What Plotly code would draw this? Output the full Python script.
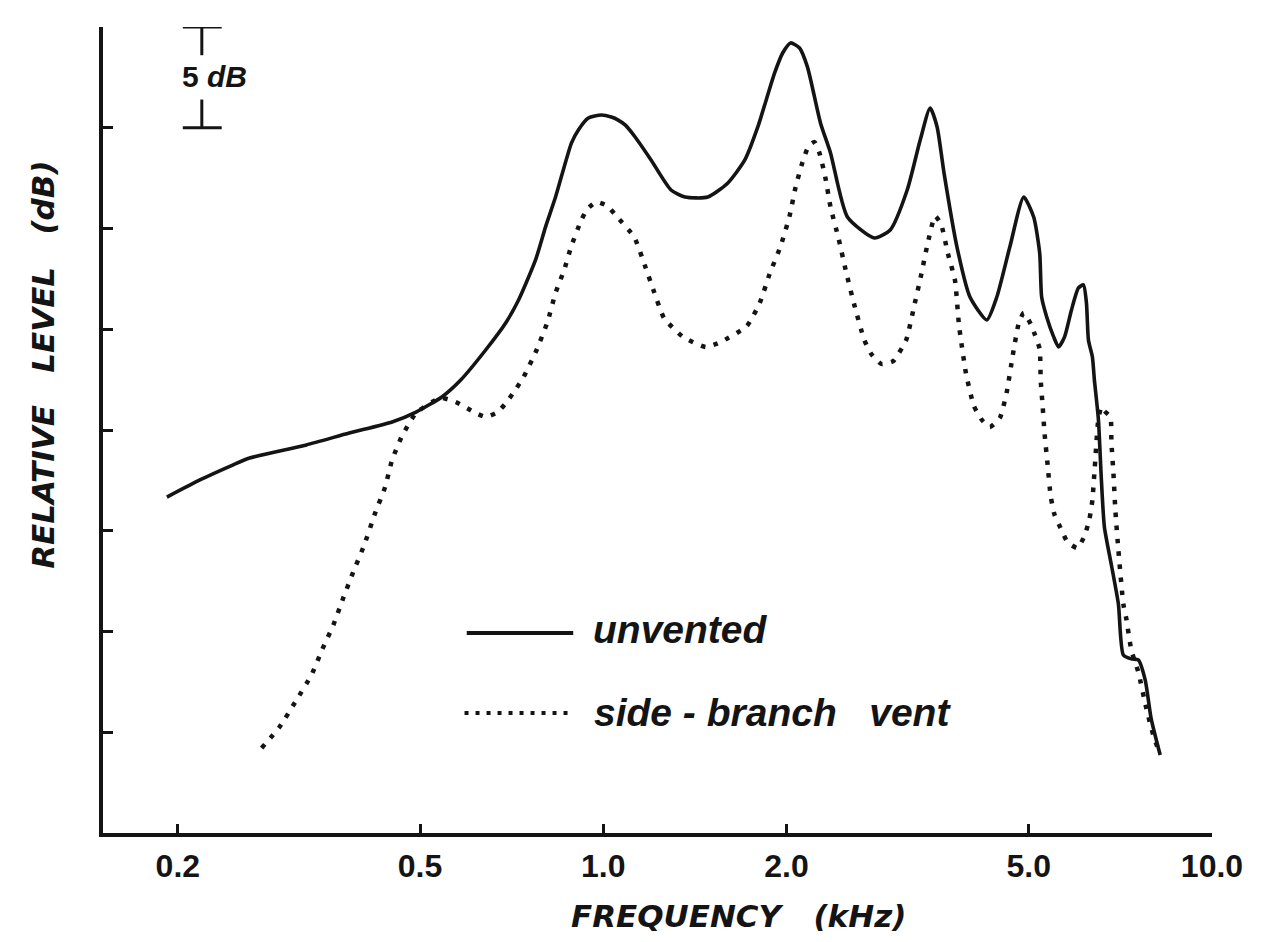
import plotly.graph_objects as go

# ---------------- data ----------------
# frequency in kHz, level in dB (relative; 5 dB per y tick)
unvented_freq = [0.1919, 0.2174, 0.2461, 0.2624, 0.3252, 0.3825, 0.4498, 0.4924, 0.5430, 0.5831,
                 0.6408, 0.6912, 0.7258, 0.7739, 0.8036, 0.8347, 0.8864, 0.9101,
                 0.9450, 0.9925, 1.031, 1.058, 1.086, 1.128, 1.198,
                 1.292, 1.362, 1.485, 1.602, 1.708, 1.794, 1.912, 1.971, 2.031, 2.101, 2.165, 2.274,
                 2.362, 2.518, 2.788, 2.961, 3.157, 3.316, 3.443, 3.535, 3.629, 3.811,
                 4.003, 4.267, 4.431, 4.654, 4.906, 5.094, 5.211, 5.250, 5.351, 5.494,
                 5.597, 5.725, 5.877, 6.034, 6.149, 6.219, 6.266, 6.361, 6.409, 6.506,
                 6.581, 6.656, 6.835, 7.018, 7.151, 7.369, 7.566, 7.768, 7.946, 8.220]
unvented_db = [16.67, 17.52, 18.26, 18.61, 19.26, 19.85, 20.40, 20.89, 21.64, 22.48,
               23.97, 25.31, 26.45, 28.44, 30.07, 31.56, 34.24, 34.89,
               35.48, 35.63, 35.53, 35.38, 35.14, 34.54, 33.40,
               31.91, 31.56, 31.56, 32.26, 33.40, 35.04, 37.72, 38.71, 39.21, 38.96, 38.01, 35.24,
               33.75, 30.57, 29.53, 29.93, 31.91, 34.39, 35.98, 35.04, 32.75, 29.08,
               26.60, 25.46, 26.60, 29.08, 31.56, 30.57, 28.78, 26.60, 25.61, 24.62,
               24.12, 24.62, 25.96, 27.05, 27.20, 26.30, 24.47, 23.62, 22.48, 20.55,
               17.52, 15.19, 13.30, 11.36, 8.83, 8.64, 8.59, 7.59, 5.66, 3.87]

vent_freq = [0.2746, 0.2938, 0.3133, 0.3315, 0.3456, 0.3602, 0.3739, 0.3883, 0.4048, 0.4219,
             0.4381, 0.4498, 0.4670, 0.4924, 0.5231, 0.5430, 0.5722, 0.6173, 0.6408, 0.6708,
             0.6939, 0.7150, 0.7396, 0.7770, 0.8096, 0.8347, 0.8634, 0.8862, 0.9204, 0.9415,
             0.9739, 1.015, 1.054, 1.124, 1.171, 1.212, 1.258, 1.352, 1.474, 1.560,
             1.721, 1.807, 1.876, 1.956, 2.023, 2.070, 2.125, 2.174, 2.223, 2.265,
             2.317, 2.362, 2.434, 2.508, 2.585, 2.684, 2.756, 2.862, 2.994, 3.145,
             3.241, 3.328, 3.404, 3.508, 3.588, 3.684, 3.782, 3.840, 3.942, 4.063,
             4.187, 4.315, 4.482, 4.601, 4.707, 4.815, 4.906, 5.037, 5.113, 5.211,
             5.231, 5.271, 5.309, 5.370, 5.432, 5.514, 5.639, 5.789, 6.012, 6.172,
             6.290, 6.361, 6.409, 6.506, 6.581, 6.656, 6.809, 6.835, 6.887, 6.939,
             7.018, 7.151, 7.233, 7.369, 7.566, 7.798, 8.006, 8.189]
vent_db = [4.22, 5.26, 6.60, 7.84, 9.13, 10.32, 11.66, 12.95, 14.29, 15.88,
           17.17, 18.51, 19.70, 20.84, 21.39, 21.59, 21.39, 20.84, 20.65, 20.89,
           21.39, 21.94, 22.63, 23.97, 25.36, 26.80, 27.99, 29.13, 30.42, 30.97,
           31.32, 31.12, 30.57, 29.58, 28.14, 26.85, 25.56, 24.62, 24.12, 24.37,
           25.16, 26.30, 27.74, 29.13, 30.62, 32.06, 33.30, 34.09, 34.29, 33.75,
           32.51, 31.07, 29.53, 27.79, 26.20, 24.47, 23.77, 23.28, 23.42, 24.47,
           26.15, 27.69, 29.13, 30.62, 30.22, 28.73, 27.44, 25.21, 22.83, 21.19,
           20.50, 20.15, 20.60, 21.89, 23.72, 25.31, 25.81, 25.26, 24.76, 24.02,
           22.48, 21.14, 19.80, 18.26, 16.72, 15.78, 15.14, 14.44, 14.14, 14.74,
           15.58, 16.53, 17.87, 20.55, 21.14, 20.94, 20.65, 19.40, 17.87, 15.98,
           14.04, 11.36, 10.62, 9.08, 7.99, 6.20, 4.86, 4.02]

x_tick_vals = [0.2, 0.5, 1.0, 2.0, 5.0, 10.0]
x_tick_text = ["0.2", "0.5", "1.0", "2.0", "5.0", "10.0"]
y_tick_vals = [5, 10, 15, 20, 25, 30, 35, 40]

series_names = ["unvented", "side\u00a0-\u00a0branch\u00a0\u00a0\u00a0vent"]
x_title = "FREQUENCY\u00a0\u00a0\u00a0(kHz)"
y_title = "RELATIVE\u00a0\u00a0\u00a0LEVEL\u00a0\u00a0\u00a0(dB)"

# 5 dB scale bar (frequency position in kHz, level span in dB)
scale_bar_f = 0.219
scale_bar_cap = (0.2038, 0.2361)
scale_bar_top = 40.0
scale_bar_db = 5.0

INK = "#141414"
FONT = "Liberation Sans"
WIDE = "DejaVu Sans"

fig = go.Figure()

fig.add_trace(go.Scatter(
    x=unvented_freq, y=unvented_db, mode="lines", name=series_names[0],
    line=dict(color=INK, width=3.6, shape="spline", smoothing=0.6),
    showlegend=False, hoverinfo="skip"))

fig.add_trace(go.Scatter(
    x=vent_freq, y=vent_db, mode="lines", name=series_names[1],
    line=dict(color=INK, width=4.5, dash="4.5px,8.5px", shape="spline", smoothing=0.5),
    showlegend=False, hoverinfo="skip"))

# scale bar
sb_bot = scale_bar_top - scale_bar_db
gap_hi = scale_bar_top - 1.4
gap_lo = sb_bot + 1.4
fig.add_trace(go.Scatter(
    x=[scale_bar_cap[0], scale_bar_cap[1], None, scale_bar_f, scale_bar_f, None,
       scale_bar_f, scale_bar_f, None, scale_bar_cap[0], scale_bar_cap[1]],
    y=[scale_bar_top, scale_bar_top, None, scale_bar_top, gap_hi, None,
       gap_lo, sb_bot, None, sb_bot, sb_bot],
    mode="lines", line=dict(color=INK, width=3), showlegend=False,
    hoverinfo="skip", cliponaxis=False))

W, H = 1247, 926
fig.update_layout(
    width=W, height=H,
    margin=dict(l=95, r=39, t=19, b=101),
    paper_bgcolor="white", plot_bgcolor="white",
    showlegend=False,
    font=dict(family=FONT, color=INK),
)

fig.update_xaxes(
    type="log", range=[-0.8219, 1.0],
    tickvals=x_tick_vals, ticktext=x_tick_text,
    ticks="inside", ticklen=9, tickwidth=3, tickcolor=INK,
    showline=True, linewidth=3.5, linecolor=INK,
    showgrid=False, zeroline=False,
    tickfont=dict(family=FONT, size=32, color=INK, weight="bold"),
    ticklabelstandoff=2,
)
fig.update_yaxes(
    range=[0, 40], tickvals=y_tick_vals, showticklabels=False,
    ticks="inside", ticklen=10, tickwidth=3, tickcolor=INK,
    showline=True, linewidth=3.5, linecolor=INK,
    showgrid=False, zeroline=False,
)

# legend samples (paper coordinates)
fig.add_shape(type="line", xref="paper", yref="paper", x0=0.328, x1=0.424, y0=0.248, y1=0.248,
              line=dict(color=INK, width=4))
fig.add_shape(type="line", xref="paper", yref="paper", x0=0.326, x1=0.419, y0=0.149, y1=0.149,
              line=dict(color=INK, width=4, dash="4px,7px"))

annots = [
    dict(text="<b><i>" + series_names[0] + "</i></b>", x=0.440, y=0.252, size=39, xanchor="left", fam=FONT),
    dict(text="<b><i>" + series_names[1] + "</i></b>", x=0.441, y=0.150, size=39, xanchor="left", fam=FONT),
    dict(text="<b><i>" + x_title + "</i></b>", x=0.573, y=-0.103, size=31, xanchor="center", fam=WIDE),
    dict(text="<b>5</b>\u00a0<b><i>dB</i></b>", x=0.1006, y=0.938, size=30, xanchor="center", fam=FONT),
]
for a in annots:
    fig.add_annotation(text=a["text"], x=a["x"], y=a["y"], xref="paper", yref="paper",
                       xanchor=a["xanchor"], yanchor="middle", showarrow=False,
                       font=dict(family=a["fam"], size=a["size"], color=INK))

fig.add_annotation(text="<b><i>" + y_title + "</i></b>",
                   x=-0.054, y=0.581, xref="paper", yref="paper", textangle=-90,
                   xanchor="center", yanchor="middle", showarrow=False,
                   font=dict(family=WIDE, size=31, color=INK))

fig.write_html("out.html")
